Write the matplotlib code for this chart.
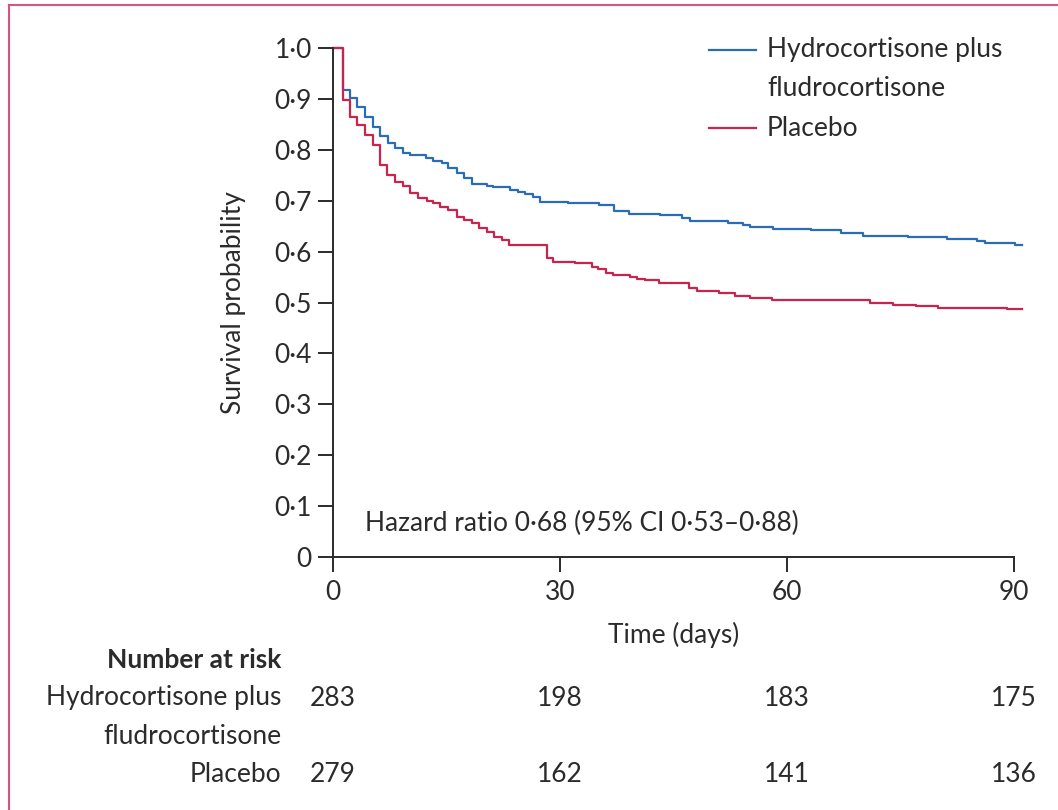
"""Kaplan-Meier survival curves with number-at-risk table."""

import matplotlib.pyplot as plt
from matplotlib.lines import Line2D

plt.rcParams["font.family"] = ["Lato", "DejaVu Sans"]

# Step times (days) and survival estimates after each step
hf_days = [0, 1.3, 2.25, 3.2, 4.2, 5.3, 6.2, 7.3, 8.2, 9.25, 10.2, 12.3, 13.2,
           14.4, 15.2, 16.4, 17.3, 18.4, 20.4, 21.1, 23.4, 24.4, 25.4, 26.4,
           27.4, 31.1, 35.2, 37.1, 39.1, 43.2, 46.1, 47.2, 52.2, 54.2, 55.1,
           58.1, 63.2, 67.1, 70.0, 76.0, 81.1, 85.1, 86.2, 90.1, 91.0]
hf_surv = [1.0, 0.917, 0.902, 0.884, 0.865, 0.845, 0.827, 0.813, 0.803, 0.794,
           0.790, 0.784, 0.778, 0.774, 0.764, 0.754, 0.745, 0.733, 0.729, 0.727,
           0.721, 0.717, 0.713, 0.707, 0.697, 0.695, 0.692, 0.680, 0.674, 0.671,
           0.667, 0.660, 0.657, 0.652, 0.649, 0.645, 0.642, 0.636, 0.631, 0.628,
           0.625, 0.621, 0.617, 0.614, 0.614]

pl_days = [0, 1.3, 2.25, 3.2, 4.2, 5.3, 6.2, 7.2, 8.2, 9.3, 10.2, 11.2, 12.4,
           13.2, 14.1, 15.2, 16.4, 17.3, 18.4, 19.3, 20.4, 21.3, 22.3, 23.3,
           28.3, 29.1, 32.0, 34.2, 35.0, 36.1, 37.0, 39.2, 40.2, 41.2, 43.1,
           47.0, 48.1, 51.0, 53.1, 55.1, 58.0, 71.0, 74.0, 77.0, 80.0, 89.1, 91.0]
pl_surv = [1.0, 0.898, 0.865, 0.849, 0.829, 0.809, 0.770, 0.750, 0.737, 0.728,
           0.715, 0.705, 0.700, 0.695, 0.688, 0.682, 0.669, 0.662, 0.656, 0.646,
           0.639, 0.629, 0.623, 0.613, 0.587, 0.580, 0.577, 0.570, 0.565, 0.559,
           0.555, 0.551, 0.547, 0.544, 0.538, 0.528, 0.523, 0.518, 0.513, 0.508,
           0.505, 0.500, 0.496, 0.493, 0.490, 0.487, 0.487]

x_ticks = [0, 30, 60, 90]
y_ticks = [0, 0.1, 0.2, 0.3, 0.4, 0.5, 0.6, 0.7, 0.8, 0.9, 1.0]
y_tick_labels = ["0", "0·1", "0·2", "0·3", "0·4", "0·5", "0·6", "0·7",
                 "0·8", "0·9", "1·0"]

risk_hf = [283, 198, 183, 175]
risk_pl = [279, 162, 141, 136]

blue = "#2a6db5"
red = "#c8244e"
ink = "#2b2b2b"
fs = 19

W, H = 1058, 810


def fx(px):
    return px / W


def fy(py):
    return 1 - py / H


fig = plt.figure(figsize=(W / 100, H / 100), dpi=100)
ax = fig.add_axes([0.3147, 0.3123, 0.6437, 0.6284])

ax.step(hf_days, hf_surv, where="post", color=blue, lw=1.6, clip_on=False)
ax.step(pl_days, pl_surv, where="post", color=red, lw=1.6, clip_on=False)

ax.set_xlim(0, 90)
ax.set_ylim(0, 1.0)
ax.set_xticks(x_ticks)
ax.set_yticks(y_ticks)
ax.set_yticklabels(y_tick_labels)
for side in ["top", "right"]:
    ax.spines[side].set_visible(False)
for side in ["left", "bottom"]:
    ax.spines[side].set_linewidth(1.4)
    ax.spines[side].set_color(ink)
ax.tick_params(direction="out", length=10.8, width=1.4, color=ink,
               labelsize=fs, labelcolor=ink)
ax.tick_params(axis="x", pad=5.5)
ax.tick_params(axis="y", pad=4.3)

ax.set_xlabel("Time (days)", fontsize=fs, color=ink)
ax.set_ylabel("Survival probability", fontsize=fs, color=ink)
ax.xaxis.set_label_coords(0.5, -0.128)
ax.yaxis.set_label_coords(-0.128, 0.5)

ax.text(4.3, 0.065, "Hazard ratio 0·68 (95% CI 0·53–0·88)", fontsize=fs,
        color=ink, va="center")

# Legend, laid out by hand
for py, col in [(50, blue), (128, red)]:
    fig.add_artist(Line2D([fx(709), fx(756)], [fy(py), fy(py)],
                          transform=fig.transFigure, color=col, lw=1.6))
for py, txt in [(50, "Hydrocortisone plus"), (89, "fludrocortisone"),
                (128, "Placebo")]:
    fig.text(fx(767), fy(py), txt, fontsize=fs, color=ink, ha="left", va="center")

# Number at risk table under the axis
fig.text(fx(281), fy(660), "Number at risk", fontsize=fs,
         fontweight="bold", color=ink, ha="right", va="center")
for py, txt in [(698, "Hydrocortisone plus"), (737, "fludrocortisone"),
                (775, "Placebo")]:
    fig.text(fx(281), fy(py), txt, fontsize=fs, color=ink, ha="right", va="center")
for py, counts in zip([698, 775], [risk_hf, risk_pl]):
    for day, n in zip(x_ticks, counts):
        xf = fig.transFigure.inverted().transform(ax.transData.transform((day, 0)))[0]
        fig.text(xf, fy(py), str(n), fontsize=fs, color=ink, ha="center", va="center")

# Panel frame along top and left edges
frame = "#d6557e"
fig.add_artist(Line2D([fx(9), 1.0], [fy(5), fy(5)],
                      transform=fig.transFigure, color=frame, lw=1.5))
fig.add_artist(Line2D([fx(9), fx(9)], [0, fy(5)],
                      transform=fig.transFigure, color=frame, lw=1.5))

fig.savefig("out.png", dpi=100, facecolor="white")
